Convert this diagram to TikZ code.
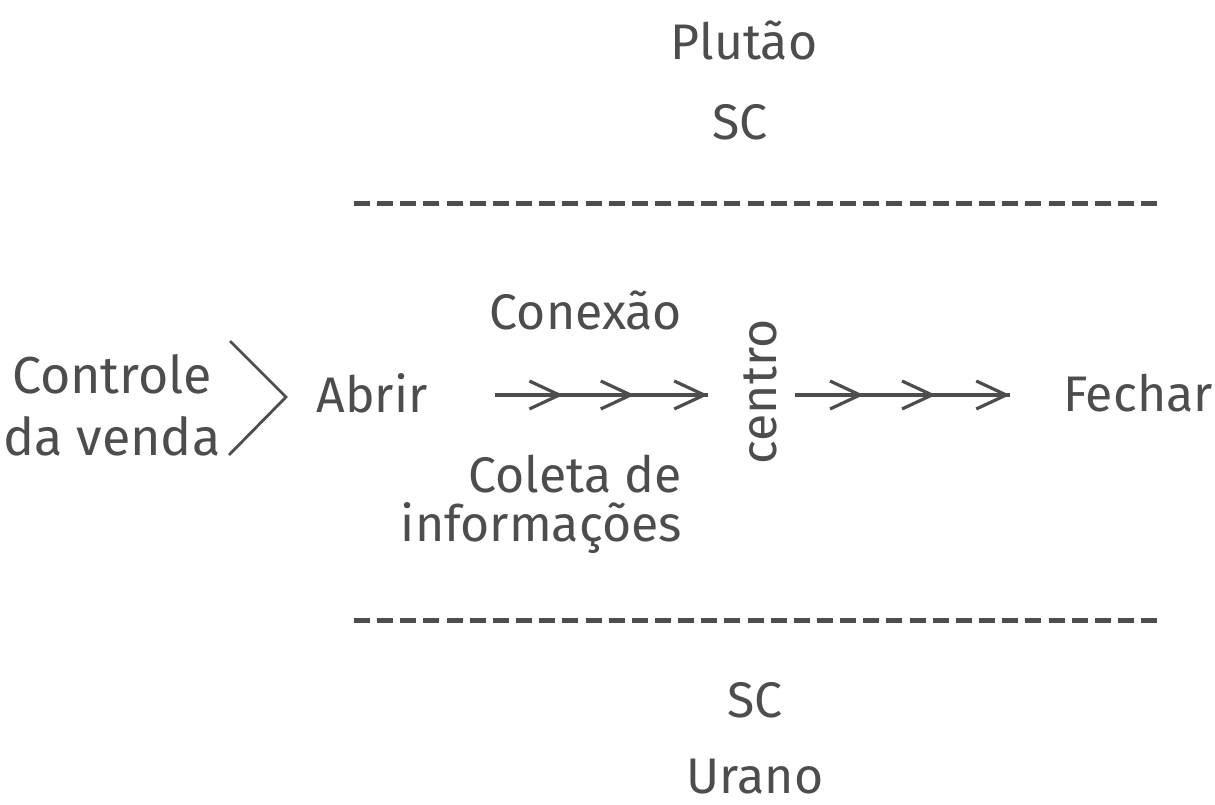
\documentclass[tikz,border=0pt]{standalone}
\usepackage{fontspec}
\setmainfont{Fira Sans}
\usetikzlibrary{arrows.meta,decorations.markings}
\definecolor{ink}{HTML}{4D4D4D}
\tikzset{
  lbl/.style={text=ink,font=\fontsize{50}{62}\selectfont,inner sep=0pt},
  sep/.style={draw=ink,line width=5pt,dash pattern=on 16pt off 7.15pt},
  barb/.style={draw=ink,line width=3.2pt,
    postaction={decorate,decoration={markings,
      mark=at position 0.32 with {\arrow{Straight Barb[length=30pt,width=28pt,line width=3.2pt]}},
      mark=at position 0.655 with {\arrow{Straight Barb[length=30pt,width=28pt,line width=3.2pt]}},
      mark=at position 1 with {\arrow{Straight Barb[length=30pt,width=28pt,line width=3.2pt]}}}}},
  chev/.style={draw=ink,line width=2.8pt,line join=miter}
}
\begin{document}
\begin{tikzpicture}[x=1pt,y=1pt]
\useasboundingbox[fill=white] (0,0) rectangle (1215,-805);
\node[lbl] (pluto) at (744,-40) {Plutão};
\node[lbl] (sctop) at (740,-122) {SC};
\coordinate (t1) at (354,-204);
\coordinate (t2) at (1157,-204);
\draw[sep] (t1) -- (t2);
\node[lbl] (conexao) at (586,-310) {Conexão};
\node[lbl,align=center,font=\fontsize{52}{62}\selectfont] (controle) at (112,-405) {Controle\\da venda};
\coordinate (c1) at (230,-341);
\coordinate (c2) at (286,-397);
\coordinate (c3) at (229,-455);
\draw[chev] (c1) -- (c2) -- (c3);
\node[lbl] (abrir) at (372,-393) {Abrir};
\node[lbl,rotate=90] (centro) at (760,-392) {centro};
\node[lbl] (fechar) at (1138,-393) {Fechar};
\coordinate (a1) at (495,-395);
\coordinate (a2) at (708,-395);
\coordinate (b1) at (795,-395);
\coordinate (b2) at (1010,-395);
\draw[barb] (a1) -- (a2);
\draw[barb] (b1) -- (b2);
\node[lbl,align=right,anchor=east,font=\fontsize{50}{49}\selectfont] (coleta) at (682,-504) {Coleta de\\informações};
\coordinate (u1) at (354,-620);
\coordinate (u2) at (1157,-620);
\draw[sep] (u1) -- (u2);
\node[lbl] (scbot) at (755,-700) {SC};
\node[lbl] (urano) at (755,-777) {Urano};
\end{tikzpicture}
\end{document}
